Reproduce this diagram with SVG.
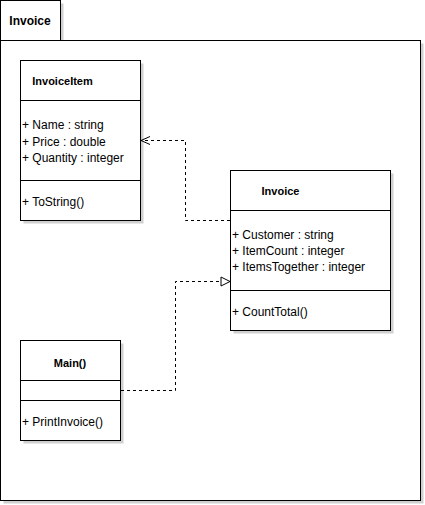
<svg xmlns="http://www.w3.org/2000/svg" width="425" height="505" viewBox="0 0 425 505">
<defs>
<style>
.sh{fill:#d0d0d0;stroke:none}
.box{fill:#ffffff;stroke:#000000;stroke-width:1}
.ln{stroke:#000000;stroke-width:1;fill:none}
.t{font-family:"Liberation Sans",Arial,sans-serif;font-size:12px;fill:#000000}
.b{font-family:"Liberation Sans",Arial,sans-serif;font-size:11px;font-weight:bold;fill:#000000;text-anchor:middle}
.dash{stroke:#000000;stroke-width:1;fill:none;stroke-dasharray:3 3}
</style>
<marker id="open" markerWidth="12" markerHeight="12" refX="10" refY="5" orient="auto" markerUnits="userSpaceOnUse" viewBox="0 0 12 10">
<path d="M1,1 L10,5 L1,9" fill="none" stroke="#000000" stroke-width="1"/>
</marker>
<marker id="tri" markerWidth="12" markerHeight="12" refX="10" refY="5" orient="auto" markerUnits="userSpaceOnUse" viewBox="0 0 12 10">
<path d="M1,0.5 L10,5 L1,9.5 Z" fill="#ffffff" stroke="#000000" stroke-width="1"/>
</marker>
</defs>
<rect width="425" height="505" fill="#ffffff"/>
<g id="package">
<rect class="sh" x="3.5" y="3.5" width="60" height="40"/>
<rect class="sh" x="3.5" y="43.5" width="420" height="460"/>
<rect class="box" x="0.5" y="0.5" width="60" height="40"/>
<rect class="box" x="0.5" y="40.5" width="420" height="460"/>
<text class="b" x="30" y="25" style="font-size:12px">Invoice</text>
</g>
<g id="InvoiceItem">
<rect class="sh" x="23.5" y="63.5" width="120" height="160"/>
<rect class="box" x="20.5" y="60.5" width="120" height="160"/>
<path class="ln" d="M20.5,100.5 H140.5 M20.5,180.5 H140.5"/>
<text class="b" x="62.5" y="85">InvoiceItem</text>
<text class="t" x="22" y="129">+ Name : string</text>
<text class="t" x="22" y="145.5">+ Price : double</text>
<text class="t" x="22" y="162">+ Quantity : integer</text>
<text class="t" x="22" y="205.5">+ ToString()</text>
</g>
<g id="Invoice">
<rect class="sh" x="233.5" y="173.5" width="160" height="160"/>
<rect class="box" x="230.5" y="170.5" width="160" height="160"/>
<path class="ln" d="M230.5,210.5 H390.5 M230.5,290.5 H390.5"/>
<text class="b" x="280.5" y="195">Invoice</text>
<text class="t" x="232" y="239">+ Customer : string</text>
<text class="t" x="232" y="255">+ ItemCount : integer</text>
<text class="t" x="232" y="271">+ ItemsTogether : integer</text>
<text class="t" x="232" y="315.5">+ CountTotal()</text>
</g>
<g id="Main">
<rect class="sh" x="23.5" y="343.5" width="100" height="100"/>
<rect class="box" x="20.5" y="340.5" width="100" height="100"/>
<path class="ln" d="M20.5,380.5 H120.5 M20.5,400.5 H120.5"/>
<text class="b" x="70" y="367">Main()</text>
<text class="t" x="22" y="425.5">+ PrintInvoice()</text>
</g>
<g id="connectors">
<path class="dash" d="M230,220.5 H185.5 V140.5 H141" marker-end="url(#open)"/>
<path class="dash" d="M121,390.5 H175.5 V281.5 H230" marker-end="url(#tri)"/>
</g>
</svg>
